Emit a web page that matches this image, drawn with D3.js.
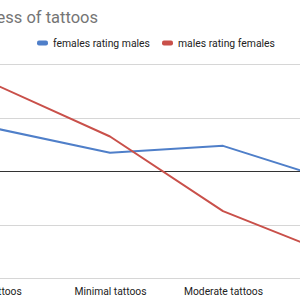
<!DOCTYPE html>
<html lang="en">
<head>
    <script src="https://d3js.org/d3.v7.min.js"></script>
    <title>tattoos</title>
    <style>
        body {margin: 0; background: #fff;}
        svg {display: block; font-family: Roboto, Arial, sans-serif;}
    </style>
</head>
<body>
<svg width="300" height="300"></svg>
<script>
    // data (units = one gridline step)
    var categories = ['No tattoos', 'Minimal tattoos', 'Moderate tattoos', 'Heavy tattoos'];
    var femalesRatingMales = [0.79, 0.34, 0.47, -0.2];
    var malesRatingFemales = [1.6, 0.645, -0.75, -1.59];
    var yTicks = [-2, -1, 0, 1, 2];
    var seriesNames = ['females rating males', 'males rating females'];
    var colors = ['#4f7fc9', '#c9504a'];

    var svg = d3.select('svg');

    var x = d3.scalePoint().domain(categories).range([-3, 336]);
    var y = d3.scaleLinear().domain([-2, 2]).range([278, 64]);

    // gridlines
    svg.append('g').selectAll('line')
        .data(yTicks).enter().append('line')
        .attr('x1', 0).attr('x2', 300)
        .attr('y1', d => Math.round(y(d)) + 0.5).attr('y2', d => Math.round(y(d)) + 0.5)
        .attr('stroke', d => d === 0 ? '#333' : '#d6d6d6')
        .attr('stroke-width', 1);

    // x labels
    var xAxis = d3.axisBottom(x).tickSize(0).tickPadding(10);
    var gx = svg.append('g').attr('transform', 'translate(0,' + y(-2) + ')').call(xAxis);
    gx.select('.domain').remove();
    gx.selectAll('text').attr('font-size', 10.3).attr('fill', '#222')
        .attr('font-family', 'Roboto, Arial, sans-serif');

    // lines
    var line = d3.line().x((d, i) => x(categories[i])).y(d => y(d));
    [femalesRatingMales, malesRatingFemales].forEach((s, i) => {
        svg.append('path').datum(s)
            .attr('d', line).attr('fill', 'none')
            .attr('stroke', colors[i]).attr('stroke-width', 2)
            .attr('stroke-linejoin', 'round');
    });

    // title (cut off on the left)
    svg.append('text').attr('x', 98).attr('y', 23)
        .attr('text-anchor', 'end').attr('font-size', 16.5).attr('fill', '#757575')
        .text('Attractiveness of tattoos');

    // legend
    var legendX = [37, 162];
    var lg = svg.append('g').selectAll('g')
        .data(seriesNames).enter().append('g')
        .attr('transform', (d, i) => 'translate(' + legendX[i] + ',43)');
    lg.append('rect').attr('x', 0).attr('y', -2.5).attr('width', 11).attr('height', 5)
        .attr('rx', 2).attr('fill', (d, i) => colors[i]);
    lg.append('text').attr('x', 16).attr('y', 4).attr('font-size', 10.4).attr('fill', '#222')
        .text(d => d);
</script>
</body>
</html>
